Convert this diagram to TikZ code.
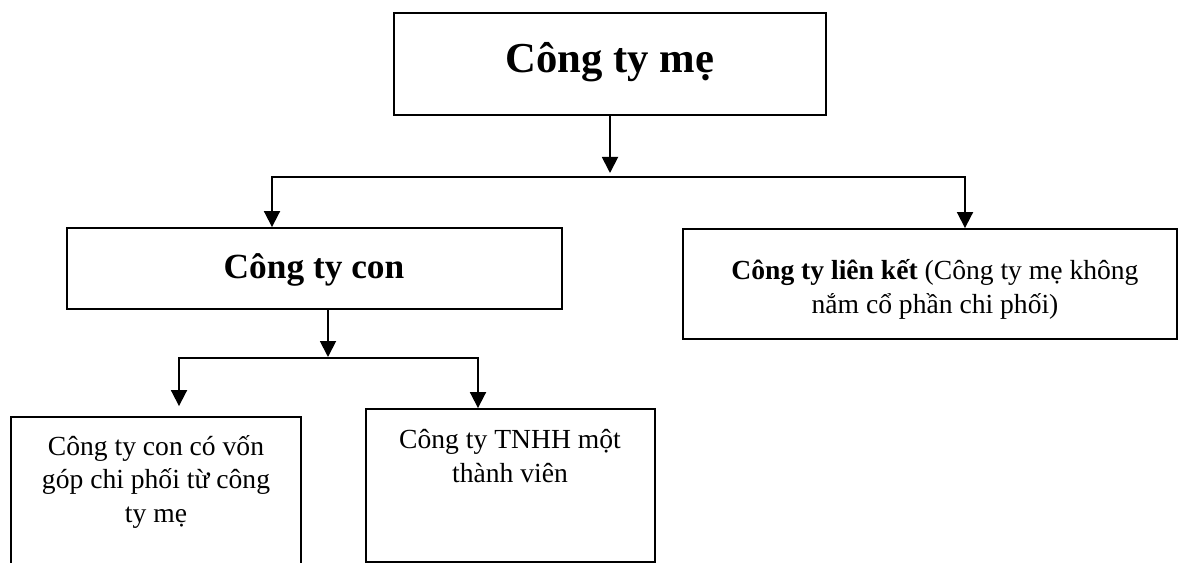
\documentclass[tikz,border=0pt]{standalone}
\usepackage{fontspec}
\setmainfont{Liberation Serif}
\usetikzlibrary{arrows.meta}
\begin{document}
\begin{tikzpicture}[x=0.75pt,y=-0.75pt,
  boxst/.style={draw, line width=1.4pt, inner sep=0pt, rectangle},
  txt/.style={inner sep=0pt, align=center, anchor=base, font=\fontsize{20.7}{25}\selectfont},
  bigtxt/.style={inner sep=0pt, anchor=base, font=\bfseries\fontsize{32}{38}\selectfont},
  midtxt/.style={inner sep=0pt, anchor=base, font=\bfseries\fontsize{26.5}{32}\selectfont},
  conn/.style={line width=1.4pt, line cap=rect},
  arr/.style={line width=1.4pt, -{Triangle[length=12pt,width=12pt]}}]
\useasboundingbox (0,0) rectangle (1178,563);
\fill[white] (0,0) rectangle (1178,563);
\clip (0,0) rectangle (1178,563);

% boxes
\node[boxst, minimum width=324pt, minimum height=76.5pt] (top) at (610,64) {};
\node[boxst, minimum width=371.25pt, minimum height=60.75pt] (con) at (314.5,268.5) {};
\node[boxst, minimum width=370.5pt, minimum height=82.5pt] (lk) at (930,284) {};
\node[boxst, minimum width=217.5pt, minimum height=152.25pt] (bl) at (156,518.5) {};
\node[boxst, minimum width=216.75pt, minimum height=114.75pt] (tnhh) at (510.5,485.5) {};

% texts (base anchor = baseline of the last line)
\node[bigtxt] (topT) at (610,73) {Công ty mẹ};
\node[midtxt] (conT) at (314,278) {Công ty con};
\node[txt] (lkT) at (935,313) {\textbf{Công ty liên kết} (Công ty mẹ không\\nắm cổ phần chi phối)};
\node[txt] (blT) at (156,522) {Công ty con có vốn\\góp chi phối từ công\\ty mẹ};
\node[txt] (tnhhT) at (510,482) {Công ty TNHH một\\thành viên};

% connectors
\coordinate (ja) at (610,177);
\coordinate (jl) at (272,177);
\coordinate (jr) at (965,177);
\draw[arr] (top.south) -- ([yshift=3pt]ja);
\draw[conn] (jl) -- (jr);
\draw[arr] (jl) -- (jl |- con.north);
\draw[arr] (jr) -- (jr |- lk.north);

\coordinate (jb) at (328,358);
\coordinate (jbl) at (179,358);
\coordinate (jbr) at (478,358);
\draw[arr] (con.south -| jb) -- ([yshift=0.75pt]jb);
\draw[conn] (jbl) -- (jbr);
\draw[arr] (jbl) -- ([yshift=7.5pt]jbl |- bl.north);
\draw[arr] (jbr) -- (jbr |- tnhh.north);
\end{tikzpicture}
\end{document}
